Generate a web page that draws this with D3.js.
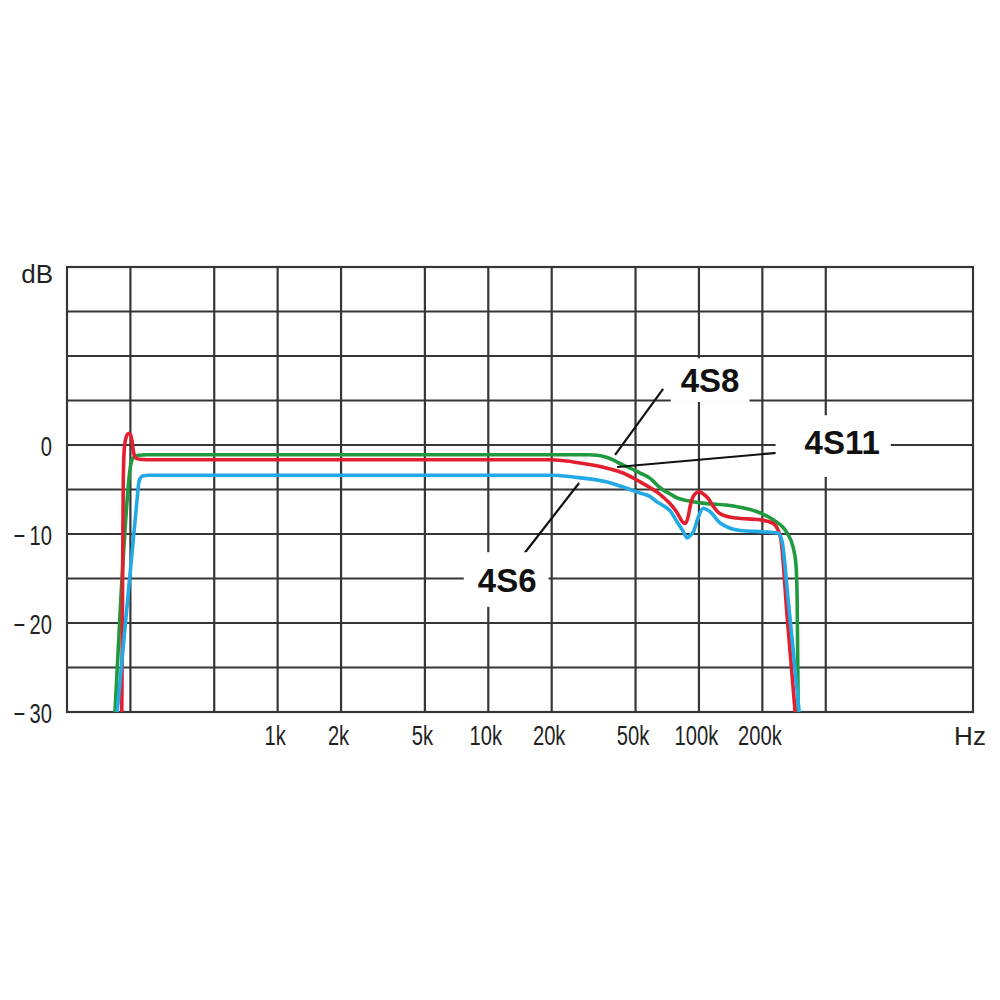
<!DOCTYPE html>
<html>
<head>
<meta charset="utf-8">
<script src="https://cdn.jsdelivr.net/npm/d3@7"></script>
<style>
  html, body { margin: 0; padding: 0; background: #fff; }
  svg { display: block; }
</style>
</head>
<body>
<svg id="chart" width="1000" height="1000"></svg>
<script>
// ---------- DATA ----------
const freqGrid   = [200, 500, 1000, 2000, 5000, 10000, 20000, 50000, 100000, 200000, 400000];
const freqLabels = ["", "", "1k", "2k", "5k", "10k", "20k", "50k", "100k", "200k", ""];
const dbGrid     = [-25, -20, -15, -10, -5, 0, 5, 10, 15];
const dbTicks    = [0, -10, -20, -30];
const dbLabels   = ["0", "\u221210", "\u221220", "\u221230"];

const seriesNames = ["4S8", "4S11", "4S6"];

// [frequency Hz, level dB]
const s4S8 = [
  [169, -30], [180, -17.4], [193, -6.2], [198, -3.2], [202, -1.9], [208, -1.35], [218, -1.15], [240, -1.1],
  [30000, -1.1], [32860, -1.15], [36660, -1.4], [43660, -2.25], [52560, -3.15], [58660, -3.75],
  [63310, -4.5], [67600, -5.05], [73000, -5.5], [78790, -5.95], [90000, -6.3], [101300, -6.5],
  [145400, -6.85], [189000, -7.5], [225100, -8.4], [262300, -9.9], [280100, -11.5], [289000, -13.5],
  [292600, -17.4], [296000, -30]
];
const s4S11 = [
  [182, -30], [184, -12], [185, -4], [187, -0.5], [191, 0.9], [196, 1.3], [200, 1.2], [204, 0.3],
  [207, -0.8], [211, -1.4], [220, -1.6], [240, -1.65],
  [20000, -1.65], [25270, -1.9], [36660, -2.6], [43660, -3.15], [52560, -4.15], [58660, -4.8],
  [63310, -5.3], [67600, -5.85], [73000, -6.6], [78790, -7.6], [84140, -8.7], [86500, -8.8],
  [89000, -8.0], [91000, -6.8], [95000, -5.6], [100000, -5.25], [105000, -5.5], [110600, -6.0],
  [117000, -6.9], [124000, -7.6], [135000, -8.0], [150000, -8.2], [195000, -8.4], [225000, -8.8],
  [237700, -9.6], [245700, -10.8], [262300, -19.3], [286300, -30]
];
const s4S6 = [
  [173, -30], [194, -17.4], [215, -6.2], [219, -4.3], [223, -3.7], [230, -3.45], [245, -3.4],
  [20000, -3.4], [25270, -3.6], [36660, -4.16], [43660, -4.72], [52560, -5.4], [58660, -5.8],
  [63310, -6.4], [67600, -6.8], [73000, -7.4], [78790, -8.65], [84140, -9.7], [87900, -10.45],
  [90500, -10.2], [93870, -9.8], [99000, -8.2], [104700, -7.1], [113000, -7.5], [126100, -8.76],
  [156900, -9.6], [210800, -9.78], [237700, -9.9], [248400, -10.9], [265200, -17.4],
  [280100, -23], [299100, -30]
];

// annotation anchors in data space [Hz, dB]
const labelAt    = [[113000, 5.96], [478600, -1.0], [12290, -16.5]];
const leaderFrom = [[40000, -1.1], [40900, -2.47], [26980, -4.27]];
const leaderTo   = [[67600, 6.3], [259400, -0.79], [14630, -12.36]];

// ---------- STYLE / LAYOUT ----------
const colors = ["#1f9a3e", "#e11f2f", "#22a9e6"];
const boxPad = [
  {l: 10, r: 10, t: 10, b: 10},
  {l: 29, r: 11, t: 15, b: 23},
  {l: 14, r: 12, t: 16, b: 15}
];
const plot = {left: 67, right: 973, top: 267, bottom: 712};
const gridColor = "#363636";
const tickFont = "'Liberation Sans', Arial, sans-serif";
const tickSize = 28, condense = 0.72;

const svg = d3.select("#chart");
svg.append("rect").attr("width", 1000).attr("height", 1000).attr("fill", "#fff");

const x = d3.scaleLog().domain([100, 2e6]).range([plot.left, plot.right]);
const y = d3.scaleLinear().domain([-30, 20]).range([plot.bottom, plot.top]);

// grid
const grid = svg.append("g");
grid.selectAll("line.v").data(freqGrid).join("line")
  .attr("x1", d => x(d)).attr("x2", d => x(d))
  .attr("y1", plot.top).attr("y2", plot.bottom)
  .attr("stroke", gridColor).attr("stroke-width", 2.2);
grid.selectAll("line.h").data(dbGrid).join("line")
  .attr("x1", plot.left).attr("x2", plot.right)
  .attr("y1", d => y(d)).attr("y2", d => y(d))
  .attr("stroke", gridColor).attr("stroke-width", 2.2);
grid.append("rect")
  .attr("x", plot.left).attr("y", plot.top)
  .attr("width", plot.right - plot.left).attr("height", plot.bottom - plot.top)
  .attr("fill", "none").attr("stroke", gridColor).attr("stroke-width", 2.2);

// x axis
const xAxis = d3.axisBottom(x).tickValues(freqGrid)
  .tickFormat((d, i) => freqLabels[i]).tickSize(0);
const gx = svg.append("g").attr("transform", `translate(0,${plot.bottom})`).call(xAxis);
gx.select(".domain").remove();
gx.selectAll("text")
  .attr("y", 0).attr("dy", null)
  .attr("transform", `translate(-3,33) scale(${condense},1)`)
  .attr("font-family", tickFont).attr("font-size", tickSize).attr("fill", "#222");

// y axis
const yAxis = d3.axisLeft(y).tickValues(dbTicks)
  .tickFormat((d, i) => dbLabels[i]).tickSize(0);
const gy = svg.append("g").attr("transform", `translate(${plot.left},0)`).call(yAxis);
gy.select(".domain").remove();
gy.selectAll("text")
  .attr("x", 0).attr("dy", "0.36em")
  .attr("transform", `translate(-15,0) scale(${condense},1)`)
  .attr("font-family", tickFont).attr("font-size", tickSize).attr("fill", "#222")
  .each(function(d, i) {
    const s = dbLabels[i];
    const t = d3.select(this);
    if (s.startsWith("\u2212")) {
      t.text(null);
      t.append("tspan").text("\u2212");
      t.append("tspan").attr("dx", 6).text(s.slice(1));
    }
  });

svg.append("text").text("dB")
  .attr("x", 53).attr("y", 283).attr("text-anchor", "end")
  .attr("font-family", tickFont).attr("font-size", 26).attr("fill", "#222");
svg.append("text").text("Hz")
  .attr("x", 970).attr("y", 745).attr("text-anchor", "middle")
  .attr("font-family", tickFont).attr("font-size", 26).attr("fill", "#222");

// label boxes (white knock-outs over grid)
const labelFont = 33;
const capH = labelFont * 0.716;
const labels = svg.append("g");
const texts = [];
seriesNames.forEach((name, i) => {
  const t = labels.append("text").text(name)
    .attr("x", x(labelAt[i][0])).attr("y", y(labelAt[i][1]))
    .attr("text-anchor", "middle")
    .attr("font-family", "'Liberation Sans', Arial, sans-serif")
    .attr("font-weight", "bold").attr("font-size", labelFont).attr("fill", "#111");
  texts.push(t);
});
texts.forEach((t, i) => {
  const w = t.node().getComputedTextLength();
  const cx = x(labelAt[i][0]), by = y(labelAt[i][1]);
  const p = boxPad[i];
  labels.insert("rect", "text")
    .attr("x", cx - w / 2 - p.l).attr("y", by - capH - p.t)
    .attr("width", w + p.l + p.r).attr("height", capH + p.t + p.b)
    .attr("fill", "#fff");
});

// curves
const line = d3.line().x(d => x(d[0])).y(d => y(d[1])).curve(d3.curveMonotoneX);
const allSeries = [s4S8, s4S11, s4S6];
svg.append("g").selectAll("path").data(allSeries).join("path")
  .attr("d", line)
  .attr("fill", "none")
  .attr("stroke", (d, i) => colors[i])
  .attr("stroke-width", 3.6)
  .attr("stroke-linejoin", "round");

// leaders
svg.append("g").selectAll("line").data(seriesNames).join("line")
  .attr("x1", (d, i) => x(leaderFrom[i][0])).attr("y1", (d, i) => y(leaderFrom[i][1]))
  .attr("x2", (d, i) => x(leaderTo[i][0])).attr("y2", (d, i) => y(leaderTo[i][1]))
  .attr("stroke", "#111").attr("stroke-width", 2.2);

labels.raise();
</script>
</body>
</html>
